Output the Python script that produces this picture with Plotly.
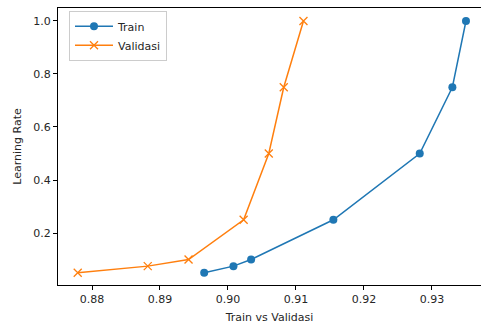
import plotly.graph_objects as go

learning_rate = [0.05, 0.075, 0.1, 0.25, 0.5, 0.75, 1.0]
train_acc = [0.8965, 0.9008, 0.9034, 0.9155, 0.9282, 0.9330, 0.9350]
val_acc = [0.8779, 0.8882, 0.8942, 0.9023, 0.9060, 0.9082, 0.9111]

x_ticks = [0.88, 0.89, 0.90, 0.91, 0.92, 0.93]
x_tick_labels = ["0.88", "0.89", "0.90", "0.91", "0.92", "0.93"]
y_ticks = [0.2, 0.4, 0.6, 0.8, 1.0]
y_tick_labels = ["0.2", "0.4", "0.6", "0.8", "1.0"]

fig = go.Figure()
fig.add_trace(go.Scatter(
    x=train_acc, y=learning_rate, name="Train", mode="lines+markers",
    line=dict(color="#1f77b4", width=1.5),
    marker=dict(symbol="circle", size=8, color="#1f77b4"),
))
fig.add_trace(go.Scatter(
    x=val_acc, y=learning_rate, name="Validasi", mode="lines+markers",
    line=dict(color="#ff7f0e", width=1.5),
    marker=dict(symbol="x-thin", size=8, color="#ff7f0e",
                line=dict(color="#ff7f0e", width=1.3)),
))

font = dict(family="DejaVu Sans", size=11, color="#262626")
fig.update_layout(
    width=481, height=327,
    margin=dict(l=58, r=0, t=8, b=42, autoexpand=False),
    paper_bgcolor="white", plot_bgcolor="white",
    font=font,
    showlegend=True,
    legend=dict(x=0.026, y=0.99, xanchor="left", yanchor="top",
                bgcolor="rgba(255,255,255,0.8)", bordercolor="#cccccc",
                borderwidth=1, font=font, itemwidth=38,
                tracegroupgap=1),
)
fig.update_xaxes(
    range=[0.875, 0.93721], tickvals=x_ticks, ticktext=x_tick_labels,
    showgrid=False, zeroline=False, showline=True, mirror=True,
    linecolor="black", linewidth=1, ticks="outside", ticklen=4,
    tickcolor="black", tickwidth=1, automargin=False,
    title=dict(text="Train vs Validasi", font=font, standoff=8),
)
fig.update_yaxes(
    range=[0.0038, 1.049], tickvals=y_ticks, ticktext=y_tick_labels,
    showgrid=False, zeroline=False, showline=True, mirror=False,
    linecolor="black", linewidth=1, ticks="outside", ticklen=4,
    tickcolor="black", tickwidth=1, automargin=False,
    title=dict(text="Learning Rate", font=font, standoff=9),
)

fig.write_html(
    "out.html",
    config={"displayModeBar": False},
    post_script="document.body.style.margin='0';document.body.style.padding='0';",
)
